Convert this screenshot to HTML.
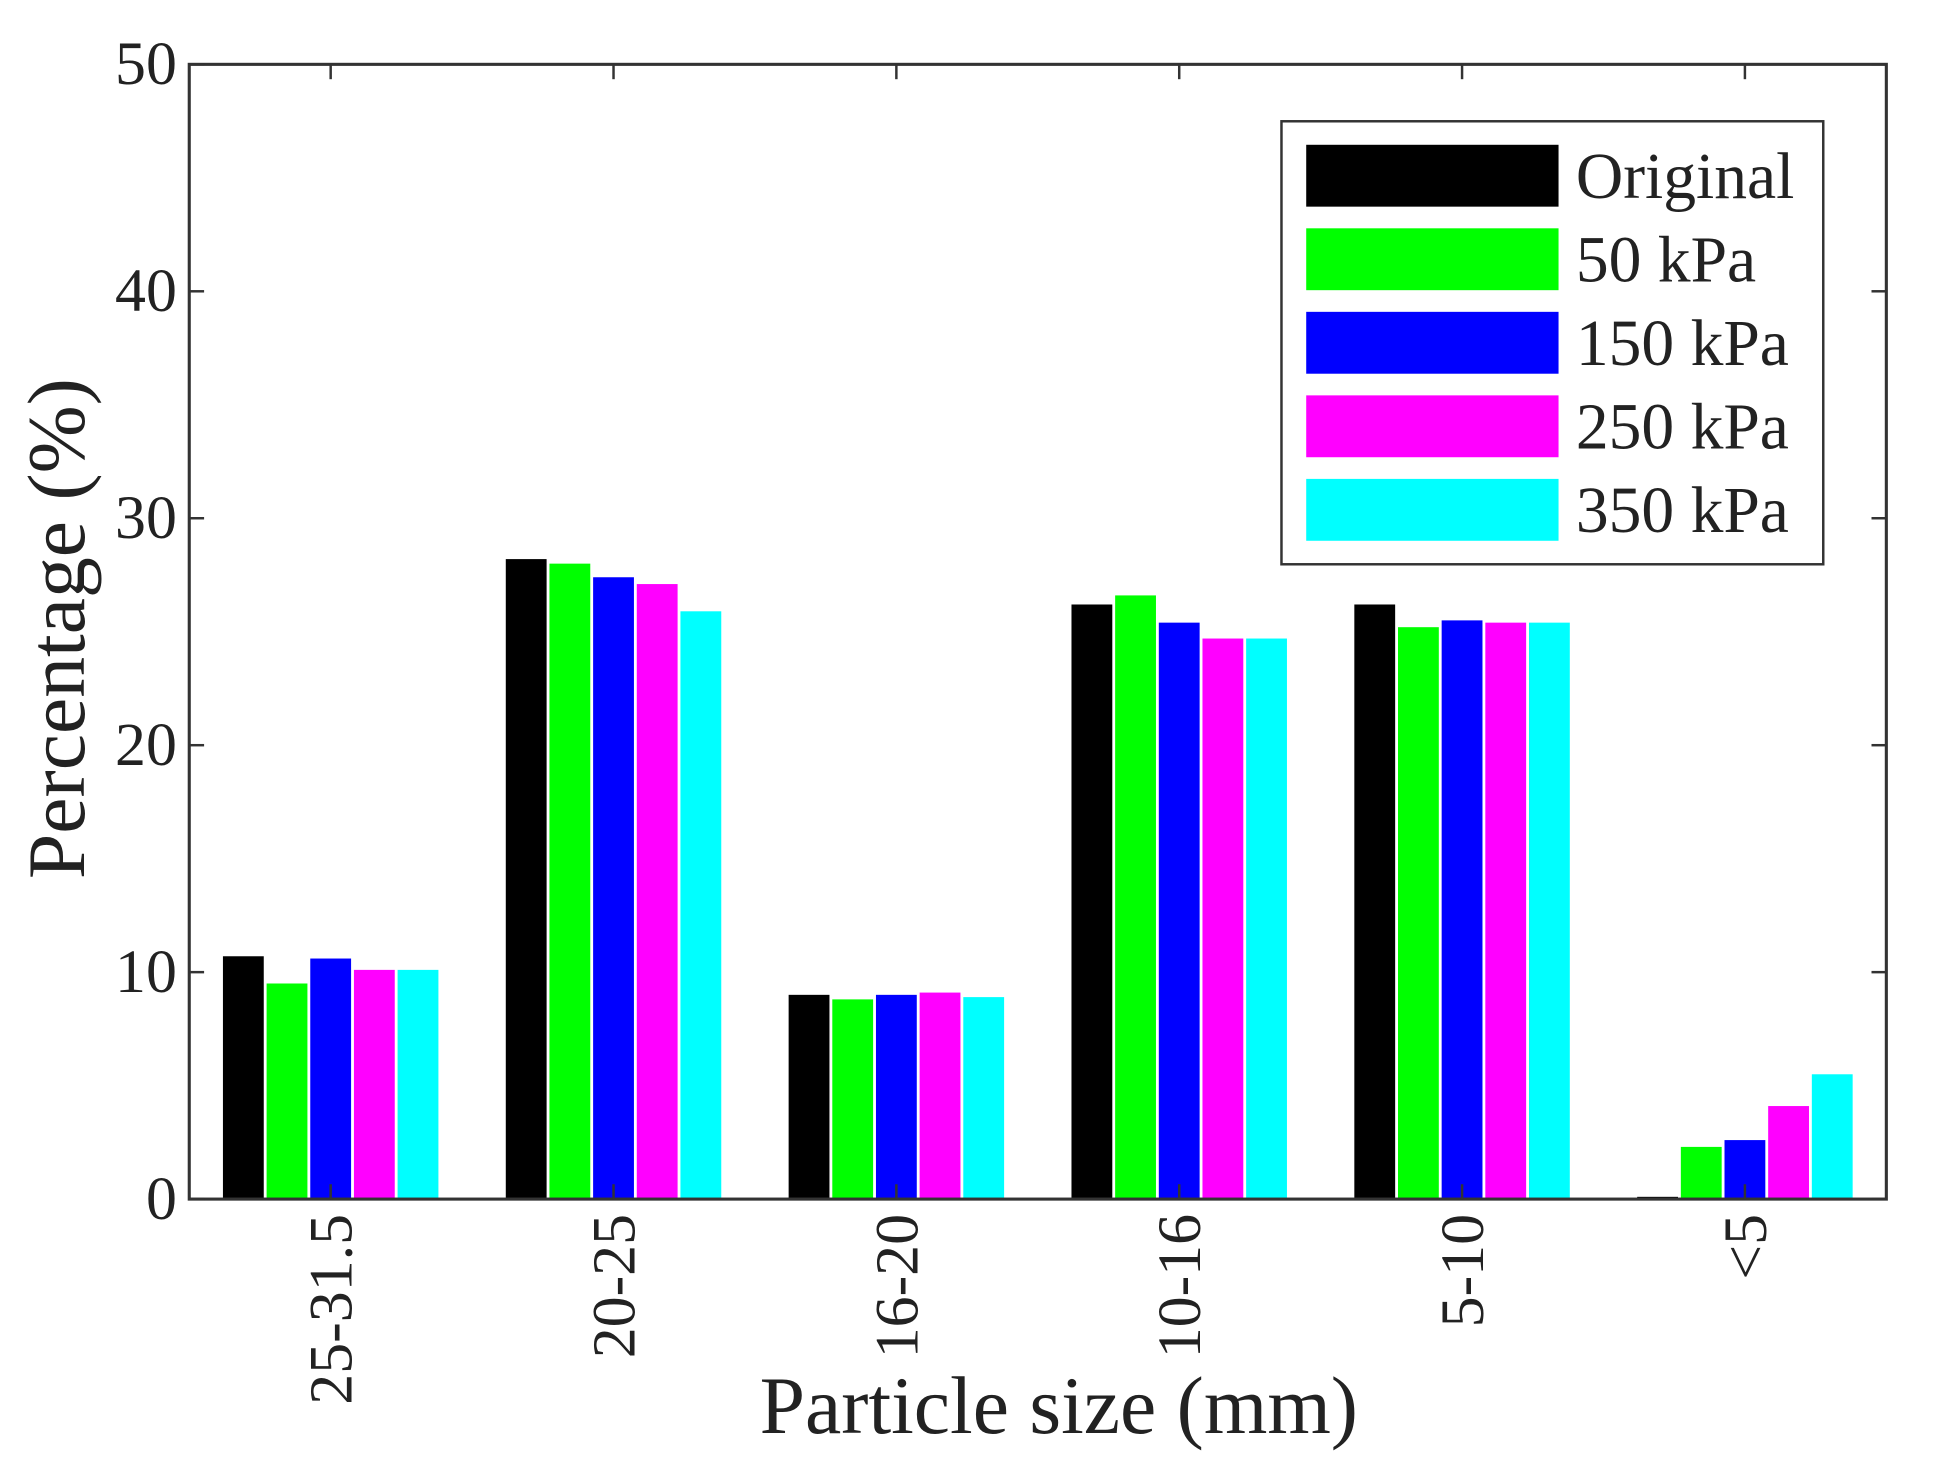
<!DOCTYPE html>
<html><head><meta charset="utf-8"><style>body{margin:0;background:#fff}svg{display:block}text{font-family:"Liberation Serif",serif;fill:#222}</style></head>
<body>
<svg id="chart" width="1942" height="1480" viewBox="0 0 1570 1196" preserveAspectRatio="none" xmlns="http://www.w3.org/2000/svg">
<rect width="1570" height="1196" fill="#fff"/>
<g id="bars"></g>
<g id="axes"></g>
</svg>
<script>
const categories = ["25-31.5","20-25","16-20","10-16","5-10","<5"];
const seriesNames = ["Original","50 kPa","150 kPa","250 kPa","350 kPa"];
const seriesColors = ["#000000","#00ff00","#0000ff","#ff00ff","#00ffff"];
const original = [10.7, 28.2, 9.0, 26.2, 26.2, 0.1];
const kpa50 = [9.5, 28.0, 8.8, 26.6, 25.2, 2.3];
const kpa150 = [10.6, 27.4, 9.0, 25.4, 25.5, 2.6];
const kpa250 = [10.1, 27.1, 9.1, 24.7, 25.4, 4.1];
const kpa350 = [10.1, 25.9, 8.9, 24.7, 25.4, 5.5];
const yTicks = [0,10,20,30,40,50];

const series = [original,kpa50,kpa150,kpa250,kpa350];
const NS="http://www.w3.org/2000/svg";
const L=153,R=1525,T=52,B=969,ymax=50;
const yS=v=>B-(v/ymax)*(B-T);
const step=(R-L)/categories.length;
const xS=i=>L+step*(i+0.5);
const pitch=35.3,bw=33;
function mk(tag,attrs,parent){const e=document.createElementNS(NS,tag);for(const k in attrs)e.setAttribute(k,attrs[k]);parent.appendChild(e);return e;}
const gb=document.getElementById('bars'),ga=document.getElementById('axes');
series.forEach((s,si)=>{s.forEach((v,ci)=>{
  const x=xS(ci)+(si-2)*pitch-bw/2;
  const r=mk('rect',{x:x,y:yS(v),width:bw,height:B-yS(v),fill:seriesColors[si]},gb);
  
  
});});
const frame=mk('rect',{x:L,y:T,width:R-L,height:B-T,fill:'none',stroke:'#333','stroke-width':2.5},ga);


yTicks.forEach(t=>{
  const y=yS(t);
  mk('line',{x1:L,x2:L+12,y1:y,y2:y,stroke:'#333','stroke-width':2},ga);
  mk('line',{x1:R,x2:R-12,y1:y,y2:y,stroke:'#333','stroke-width':2},ga);
  const tx=mk('text',{x:143,y:y+16,'text-anchor':'end','font-size':50},ga);
  tx.textContent=t;
  
  
});
categories.forEach((c,i)=>{
  const x=xS(i);
  mk('line',{x1:x,x2:x,y1:B,y2:B-12,stroke:'#333','stroke-width':2},ga);
  mk('line',{x1:x,x2:x,y1:T,y2:T+12,stroke:'#333','stroke-width':2},ga);
  const tx=mk('text',{transform:`translate(${x+17},981) rotate(-90)`,'text-anchor':'end','font-size':50},ga);
  tx.textContent=c;
  
  
});
const xt=mk('text',{x:856,y:1158,'text-anchor':'middle','font-size':66},ga);
xt.textContent='Particle size (mm)';


const yt=mk('text',{transform:'translate(68,508) rotate(-90)','text-anchor':'middle','font-size':66},ga);
yt.textContent='Percentage (%)';


const lg=mk('g',{},ga);


mk('rect',{x:1036,y:98,width:438,height:358,fill:'#fff',stroke:'#333','stroke-width':2},lg);
seriesNames.forEach((n,i)=>{
  const y=117+i*67.5;
  const p=mk('rect',{x:1056,y:y,width:204,height:50,fill:seriesColors[i]},lg);
  
  
  const t=mk('text',{x:1274,y:y+43,'font-size':53},lg);
  t.textContent=n;
  
  
});
</script>
</body></html>
